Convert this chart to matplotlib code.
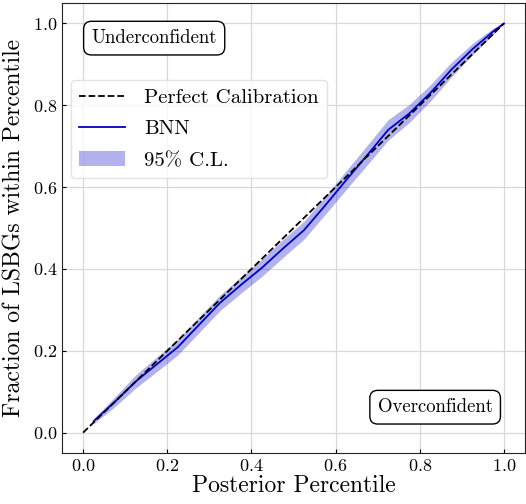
import numpy as np
import matplotlib
matplotlib.use("Agg")
import matplotlib.pyplot as plt

plt.rcParams["font.family"] = ["cmr10", "DejaVu Serif"]
plt.rcParams["mathtext.fontset"] = "cm"
plt.rcParams["axes.formatter.use_mathtext"] = True

# calibration curve
percentile = [0.025, 0.075, 0.125, 0.175, 0.225, 0.275, 0.325, 0.375, 0.425,
              0.475, 0.525, 0.575, 0.625, 0.675, 0.725, 0.775, 0.825, 0.875,
              0.925, 0.975, 1.0]
bnn_frac = [0.028, 0.075, 0.125, 0.167, 0.209, 0.263, 0.317, 0.361, 0.403,
            0.450, 0.495, 0.555, 0.617, 0.678, 0.740, 0.780, 0.830, 0.887,
            0.937, 0.981, 1.0]
band_lo = [0.022, 0.063, 0.109, 0.149, 0.190, 0.244, 0.298, 0.341, 0.382,
           0.428, 0.473, 0.533, 0.594, 0.654, 0.715, 0.758, 0.810, 0.869,
           0.923, 0.973, 1.0]
band_hi = [0.034, 0.087, 0.141, 0.185, 0.228, 0.282, 0.336, 0.381, 0.424,
           0.472, 0.517, 0.577, 0.640, 0.702, 0.765, 0.802, 0.850, 0.905,
           0.951, 0.989, 1.0]

fig = plt.figure(figsize=(5.26, 5.04), dpi=100)
ax = fig.add_axes([0.118, 0.101, 0.880, 0.893])

ax.plot([0, 1], [0, 1], "k--", lw=1.3, label="Perfect Calibration", zorder=3)
ax.plot(percentile, bnn_frac, color="#0000cc", lw=1.3, label="BNN", zorder=2)
ax.fill_between(percentile, band_lo, band_hi, color="#0000cc", alpha=0.3,
                lw=0, label="95% C.L.", zorder=1)

ax.set_xlim(-0.05, 1.05)
ax.set_ylim(-0.05, 1.05)
ax.set_xticks([0, 0.2, 0.4, 0.6, 0.8, 1.0])
ax.set_yticks([0, 0.2, 0.4, 0.6, 0.8, 1.0])
ax.tick_params(direction="in", length=3, labelsize=13)
ax.grid(True, color="#d8d8d8", lw=0.9)
ax.set_axisbelow(True)
for s in ax.spines.values():
    s.set_color("#222222")

ax.set_xlabel("Posterior Percentile", fontsize=17, labelpad=1)
ax.set_ylabel("Fraction of LSBGs within Percentile", fontsize=17, labelpad=5)

leg = ax.legend(loc="upper left", bbox_to_anchor=(0.019, 0.829),
                borderaxespad=0, fontsize=15, handlelength=2.2,
                handletextpad=0.9, labelspacing=0.62, framealpha=0.8)
leg.get_frame().set_edgecolor("#dddddd")

box = dict(boxstyle="round,pad=0.42", facecolor="white", edgecolor="black")
ax.text(0.199, 0.922, "Underconfident", transform=ax.transAxes, fontsize=13.5,
        ha="center", va="center", bbox=box)
ax.text(0.806, 0.102, "Overconfident", transform=ax.transAxes, fontsize=13.5,
        ha="center", va="center", bbox=box)

fig.savefig("out.png", dpi=100)
